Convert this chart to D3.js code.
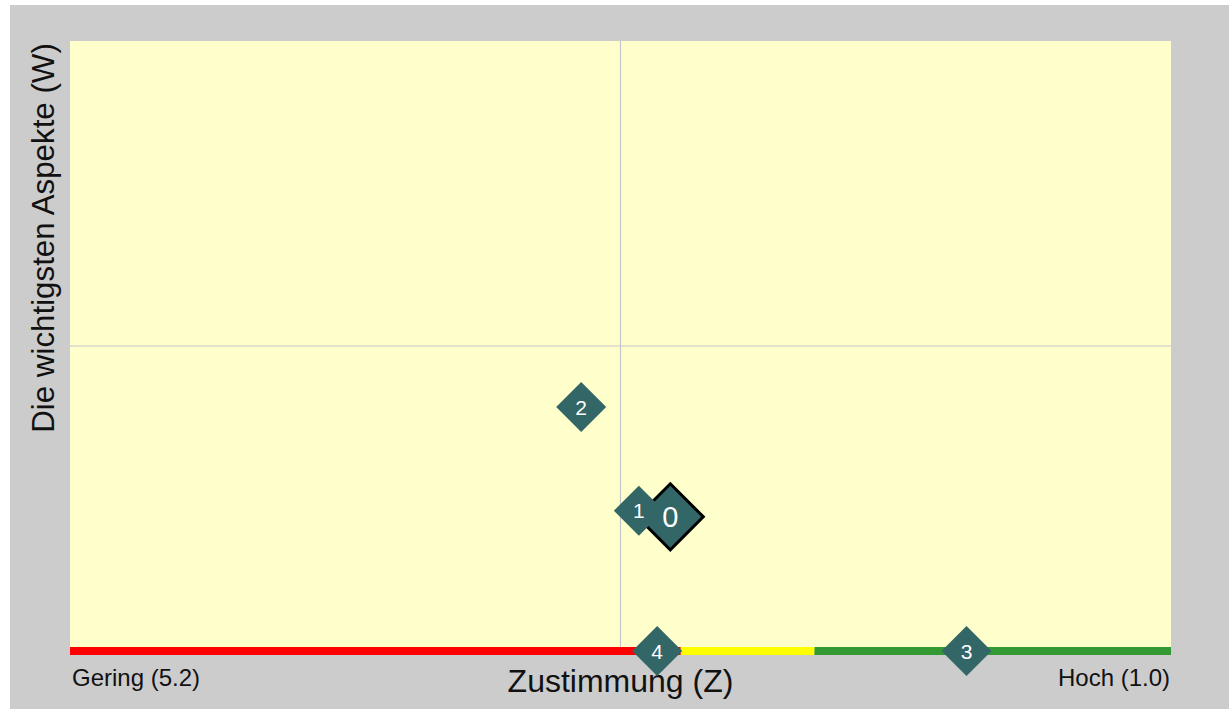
<html>
<head>
    <meta charset="UTF-8">
    <title>Zustimmung / Aspekte</title>
    <script src="https://d3js.org/d3.v7.min.js"></script>
    <style>
        body { margin: 0; background: #fff; }
        text { font-family: Arial, "Liberation Sans", sans-serif; }
    </style>
</head>
<body>
    <svg width="1229" height="709"></svg>
    <script>
        // data
        var pointIds = ['0', '1', '2', '3', '4'];
        var zustimmung = [2.91, 3.03, 3.25, 1.78, 2.96];   // x: 5.2 (gering) .. 1.0 (hoch)
        var aspekte = [0.22, 0.23, 0.40, 0, 0];           // y
        var xLabels = ['Gering (5.2)', 'Hoch (1.0)'];
        var xDomain = [5.2, 1.0];
        var bandStops = [5.2, 2.87, 2.36, 1.0];
        var bandColors = ['#ff0000', '#ffff00', '#339933'];

        var svg = d3.select('svg'),
            margin = { top : 41, right : 58, left : 70, bottom : 58 },
            width = +svg.attr('width') - margin.left - margin.right,
            height = +svg.attr('height') - margin.top - margin.bottom;

        svg.append('rect')
            .attr('x', 10).attr('y', 5)
            .attr('width', 1219).attr('height', 704)
            .attr('fill', '#cccccc');

        var g = svg.append('g').attr('transform', 'translate(' + margin.left + ',' + margin.top + ')');

        var x = d3.scaleLinear().domain(xDomain).range([0, width]);
        var y = d3.scaleLinear().domain([0, 1]).range([height, 0]);

        g.append('rect')
            .attr('width', width).attr('height', height)
            .attr('fill', '#ffffcc');

        // center lines
        g.append('line')
            .attr('x1', x((xDomain[0] + xDomain[1]) / 2)).attr('x2', x((xDomain[0] + xDomain[1]) / 2))
            .attr('y1', 0).attr('y2', height)
            .attr('stroke', '#c4c4cc').attr('stroke-width', 1.2);
        g.append('line')
            .attr('x1', 0).attr('x2', width)
            .attr('y1', y(0.5)).attr('y2', y(0.5))
            .attr('stroke', '#c4c4cc').attr('stroke-width', 1.2);

        // colour band along the bottom
        var bands = bandColors.map(function(c, i) { return { from: bandStops[i], to: bandStops[i + 1], color: c }; });
        g.selectAll('.band').data(bands).enter().append('line')
            .attr('class', 'band')
            .attr('x1', d => x(d.from)).attr('x2', d => x(d.to))
            .attr('y1', y(0)).attr('y2', y(0))
            .attr('stroke', d => d.color)
            .attr('stroke-width', 8);

        // x end labels
        g.append('text')
            .attr('x', x(xDomain[0]) + 2).attr('y', height + 35)
            .attr('font-size', 24).attr('fill', '#111')
            .text(xLabels[0]);
        g.append('text')
            .attr('x', x(xDomain[1]) - 1).attr('y', height + 35)
            .attr('text-anchor', 'end')
            .attr('font-size', 24).attr('fill', '#111')
            .text(xLabels[1]);

        // axis titles
        g.append('text')
            .attr('x', width / 2).attr('y', height + 41)
            .attr('text-anchor', 'middle')
            .attr('font-size', 32).attr('fill', '#111')
            .text('Zustimmung (Z)');
        svg.append('text')
            .attr('transform', 'translate(54,238) rotate(-90)')
            .attr('text-anchor', 'middle')
            .attr('font-size', 31.3).attr('fill', '#111')
            .text('Die wichtigsten Aspekte (W)');

        // points
        var points = pointIds.map(function(id, i) { return { id: id, z: zustimmung[i], w: aspekte[i] }; });
        var diamond = function(r) { return 'M0,' + (-r) + 'L' + r + ',0L0,' + r + 'L' + (-r) + ',0Z'; };

        var pt = g.selectAll('.pt').data(points).enter().append('g')
            .attr('class', 'pt')
            .attr('transform', d => 'translate(' + x(d.z) + ',' + y(d.w) + ')');
        pt.append('path')
            .attr('d', d => d.id === '0' ? diamond(33) : diamond(25))
            .attr('fill', '#336666')
            .attr('stroke', d => d.id === '0' ? '#000' : 'none')
            .attr('stroke-width', 3);
        pt.append('text')
            .attr('text-anchor', 'middle')
            .attr('dy', d => d.id === '0' ? 10 : 7.5)
            .attr('font-size', d => d.id === '0' ? 29 : 21)
            .attr('fill', '#fff')
            .text(d => d.id);
    </script>
</body>
</html>
